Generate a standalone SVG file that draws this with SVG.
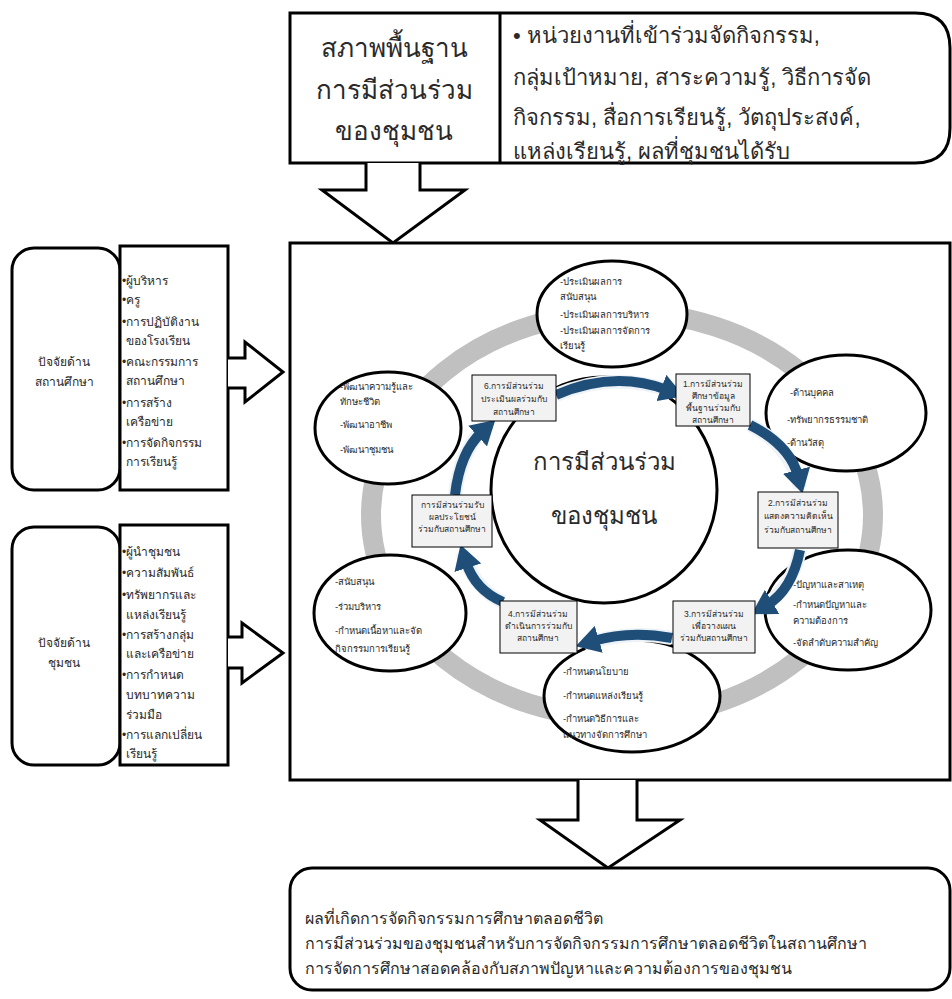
<svg xmlns="http://www.w3.org/2000/svg" width="952" height="999" viewBox="0 0 952 999">
<style>
.ln{fill:#fff;stroke:#000;stroke-width:3}
.bx{fill:#f2f2f2;stroke:#000;stroke-width:1}
.t{font-family:"Liberation Sans","DejaVu Sans",sans-serif;fill:#2a2a2a}
.big{font-size:26px}
.mid{font-size:22px}
.sm{font-size:12px}
.xs{font-size:9.5px}
.bb{font-size:8.5px}
.bt{font-size:16px}
.ctr{font-size:24px}
.ba{fill:none;stroke:#1f4e79;stroke-width:10}
.bh{fill:none;stroke:#eef3f8;stroke-width:14}
</style>
<defs>
<marker id="ah" markerUnits="userSpaceOnUse" markerWidth="26" markerHeight="28" refX="6" refY="14" orient="auto">
<path d="M0,0 L24,14 L0,28 z" fill="#1f4e79"/>
</marker>
</defs>
<rect width="952" height="999" fill="#fff"/>

<g id="top">
<path class="ln" d="M290,13 H915 Q950,13 950,48 V128 Q950,163 915,163 H290 Z"/>
<line x1="500" y1="13" x2="500" y2="163" stroke="#000" stroke-width="3"/>
<g class="t big" text-anchor="middle">
<text x="394" y="57">สภาพพื้นฐาน</text>
<text x="394" y="99">การมีส่วนร่วม</text>
<text x="394" y="140">ของชุมชน</text>
</g>
<g class="t mid">
<text x="513" y="43">• หน่วยงานที่เข้าร่วมจัดกิจกรรม,</text>
<text x="513" y="85">กลุ่มเป้าหมาย, สาระความรู้, วิธีการจัด</text>
<text x="513" y="125">กิจกรรม, สื่อการเรียนรู้, วัตถุประสงค์,</text>
<text x="513" y="159">แหล่งเรียนรู้, ผลที่ชุมชนได้รับ</text>
</g>
</g>

<g id="arrow-down-top">
<path class="ln" d="M366,163 V190 H322 L393,243 L465,190 H420 V163"/>
</g>

<g id="main">
<rect class="ln" x="290" y="243" width="660" height="537"/>
</g>

<g id="ring">
<ellipse cx="622" cy="515" rx="251" ry="203" fill="none" stroke="#c0c0c0" stroke-width="20"/>
</g>

<g id="left1">
<rect class="ln" x="12" y="248" width="108" height="242" rx="22"/>
<rect class="ln" x="120" y="246" width="108" height="244"/>
<g class="t sm" text-anchor="middle">
<text x="64" y="366">ปัจจัยด้าน</text>
<text x="64" y="386">สถานศึกษา</text>
</g>
<g class="t sm">
<text x="122" y="285">•ผู้บริหาร</text>
<text x="122" y="304">•ครู</text>
<text x="122" y="326">•การปฏิบัติงาน</text>
<text x="126" y="345">ของโรงเรียน</text>
<text x="122" y="366">•คณะกรรมการ</text>
<text x="126" y="385">สถานศึกษา</text>
<text x="122" y="407">•การสร้าง</text>
<text x="126" y="426">เครือข่าย</text>
<text x="122" y="447">•การจัดกิจกรรม</text>
<text x="126" y="466">การเรียนรู้</text>
</g>
<path class="ln" d="M228,358 H245 V342 L283,372 L245,402 V388 H228"/>
</g>

<g id="left2">
<rect class="ln" x="12" y="527" width="108" height="238" rx="22"/>
<rect class="ln" x="120" y="525" width="108" height="240"/>
<g class="t sm" text-anchor="middle">
<text x="64" y="647">ปัจจัยด้าน</text>
<text x="64" y="667">ชุมชน</text>
</g>
<g class="t sm">
<text x="122" y="556">•ผู้นำชุมชน</text>
<text x="122" y="577">•ความสัมพันธ์</text>
<text x="122" y="599">•ทรัพยากรและ</text>
<text x="126" y="619">แหล่งเรียนรู้</text>
<text x="122" y="639">•การสร้างกลุ่ม</text>
<text x="126" y="658">และเครือข่าย</text>
<text x="122" y="679">•การกำหนด</text>
<text x="126" y="699">บทบาทความ</text>
<text x="126" y="719">ร่วมมือ</text>
<text x="122" y="739">•การแลกเปลี่ยน</text>
<text x="126" y="758">เรียนรู้</text>
</g>
<path class="ln" d="M228,637 H242 V623 L283,653 L242,683 V668 H228"/>
</g>

<g id="c-top">
<ellipse class="ln" cx="612" cy="314" rx="75" ry="53"/>
<g class="t xs">
<text x="560" y="285">-ประเมินผลการ</text>
<text x="560" y="300">สนับสนุน</text>
<text x="560" y="318">-ประเมินผลการบริหาร</text>
<text x="560" y="334">-ประเมินผลการจัดการ</text>
<text x="560" y="349">เรียนรู้</text>
</g>
</g>
<g id="c-rt">
<ellipse class="ln" cx="846" cy="413" rx="80" ry="58"/>
<g class="t xs">
<text x="790" y="396">-ด้านบุคคล</text>
<text x="787" y="423">-ทรัพยากรธรรมชาติ</text>
<text x="787" y="446">-ด้านวัสดุ</text>
</g>
</g>
<g id="c-rb">
<ellipse class="ln" cx="848" cy="610" rx="83" ry="60"/>
<g class="t xs">
<text x="793" y="588">-ปัญหาและสาเหตุ</text>
<text x="793" y="608">-กำหนดปัญหาและ</text>
<text x="793" y="624">ความต้องการ</text>
<text x="793" y="646">-จัดลำดับความสำคัญ</text>
</g>
</g>
<g id="c-b">
<ellipse class="ln" cx="632" cy="696" rx="88" ry="56"/>
<g class="t xs">
<text x="563" y="675">-กำหนดนโยบาย</text>
<text x="563" y="699">-กำหนดแหล่งเรียนรู้</text>
<text x="563" y="722">-กำหนดวิธีการและ</text>
<text x="563" y="738">แนวทางจัดการศึกษา</text>
</g>
</g>
<g id="c-lb">
<ellipse class="ln" cx="390" cy="613" rx="76" ry="58"/>
<g class="t xs">
<text x="335" y="585">-สนับสนุน</text>
<text x="335" y="610">-ร่วมบริหาร</text>
<text x="335" y="634">-กำหนดเนื้อหาและจัด</text>
<text x="335" y="652">กิจกรรมการเรียนรู้</text>
</g>
</g>
<g id="c-lt">
<ellipse class="ln" cx="388" cy="428" rx="73" ry="56"/>
<g class="t xs">
<text x="340" y="390">-พัฒนาความรู้และ</text>
<text x="340" y="405">ทักษะชีวิต</text>
<text x="340" y="428">-พัฒนาอาชีพ</text>
<text x="340" y="453">-พัฒนาชุมชน</text>
</g>
</g>

<g id="center">
<circle class="ln" cx="604" cy="490" r="113"/>
<g class="t ctr" text-anchor="middle">
<text x="604" y="470">การมีส่วนร่วม</text>
<text x="604" y="524">ของชุมชน</text>
</g>
</g>

<g id="connectors">
<path class="bh" d="M556,395 Q614,370 674,392"/>
<path class="ba" d="M556,395 Q614,370 667,390" marker-end="url(#ah)"/>
<path class="bh" d="M750,425 Q790,445 800,488"/>
<path class="ba" d="M750,425 Q790,445 798,476" marker-end="url(#ah)"/>
<path class="bh" d="M800,550 Q792,590 758,610"/>
<path class="ba" d="M800,550 Q792,590 767,605" marker-end="url(#ah)"/>
<path class="bh" d="M672,638 Q630,630 584,644"/>
<path class="ba" d="M672,638 Q630,630 593,641" marker-end="url(#ah)"/>
<path class="bh" d="M503,602 Q475,590 462,552"/>
<path class="ba" d="M503,602 Q475,590 466,562" marker-end="url(#ah)"/>
<path class="bh" d="M455,495 Q460,450 488,424"/>
<path class="ba" d="M455,495 Q460,452 482,432" marker-end="url(#ah)"/>
</g>

<g id="box6">
<rect class="bx" x="472" y="375" width="84" height="46"/>
<g class="t bb" text-anchor="middle">
<text x="514" y="389">6.การมีส่วนร่วม</text>
<text x="514" y="402">ประเมินผลร่วมกับ</text>
<text x="514" y="415">สถานศึกษา</text>
</g>
</g>
<g id="box1">
<rect class="bx" x="676" y="374" width="74" height="52"/>
<g class="t bb" text-anchor="middle">
<text x="713" y="387">1.การมีส่วนร่วม</text>
<text x="713" y="399">ศึกษาข้อมูล</text>
<text x="713" y="411">พื้นฐานร่วมกับ</text>
<text x="713" y="423">สถานศึกษา</text>
</g>
</g>
<g id="box2">
<rect class="bx" x="758" y="492" width="80" height="56"/>
<g class="t bb" text-anchor="middle">
<text x="798" y="506">2.การมีส่วนร่วม</text>
<text x="798" y="519">แสดงความคิดเห็น</text>
<text x="798" y="533">ร่วมกับสถานศึกษา</text>
</g>
</g>
<g id="box3">
<rect class="bx" x="673" y="601" width="82" height="52"/>
<g class="t bb" text-anchor="middle">
<text x="714" y="617">3.การมีส่วนร่วม</text>
<text x="714" y="629">เพื่อวางแผน</text>
<text x="714" y="641">ร่วมกับสถานศึกษา</text>
</g>
</g>
<g id="box4">
<rect class="bx" x="500" y="601" width="77" height="52"/>
<g class="t bb" text-anchor="middle">
<text x="538" y="617">4.การมีส่วนร่วม</text>
<text x="538" y="629">ดำเนินการร่วมกับ</text>
<text x="538" y="641">สถานศึกษา</text>
</g>
</g>
<g id="box5">
<rect class="bx" x="412" y="495" width="80" height="52"/>
<g class="t bb" text-anchor="middle">
<text x="452" y="508">การมีส่วนร่วมรับ</text>
<text x="452" y="520">ผลประโยชน์</text>
<text x="452" y="532">ร่วมกับสถานศึกษา</text>
</g>
</g>

<g id="arrow-down-bottom">
<path class="ln" d="M578,780 V820 H540 L608,868 L680,820 H637 V780"/>
</g>

<g id="bottom">
<rect class="ln" x="290" y="868" width="660" height="122" rx="22"/>
<g class="t bt">
<text x="305" y="924">ผลที่เกิดการจัดกิจกรรมการศึกษาตลอดชีวิต</text>
<text x="305" y="949">การมีส่วนร่วมของชุมชนสำหรับการจัดกิจกรรมการศึกษาตลอดชีวิตในสถานศึกษา</text>
<text x="305" y="974">การจัดการศึกษาสอดคล้องกับสภาพปัญหาและความต้องการของชุมชน</text>
</g>
</g>
</svg>
